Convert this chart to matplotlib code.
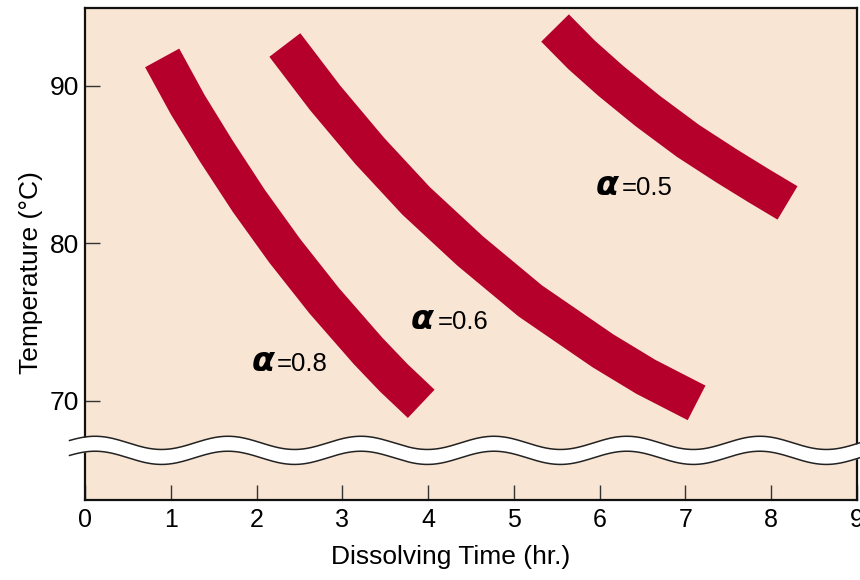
import matplotlib
matplotlib.use("Agg")
import matplotlib.pyplot as plt
import numpy as np

# centre lines of the three bands (hours, deg C)
time_a08 = [0.90, 1.20, 1.53, 1.91, 2.33, 2.79, 3.30, 3.60, 3.92]
temp_a08 = [91.78, 88.79, 85.87, 82.70, 79.52, 76.35, 73.17, 71.46, 69.81]

time_a06 = [2.33, 2.80, 3.32, 3.86, 4.49, 5.19, 6.04, 6.54, 7.13]
temp_a06 = [92.60, 89.24, 85.87, 82.70, 79.52, 76.35, 73.17, 71.52, 69.87]

time_a05 = [5.48, 5.79, 6.13, 6.56, 7.03, 7.48, 7.84, 8.19]
temp_a05 = [93.68, 91.97, 90.32, 88.41, 86.51, 84.92, 83.71, 82.57]

alpha_labels = ["0.8", "0.6", "0.5"]
x_ticks = list(range(10))
y_ticks = [70, 80, 90]

BAND = "#B5002C"
PEACH = "#F9E5D3"

fig = plt.figure(figsize=(8.6, 5.8), dpi=100)
ax = fig.add_axes([0.0988, 0.1379, 0.8977, 0.8483])
ax.set_facecolor(PEACH)
ax.set_xlim(0, 9)
ax.set_ylim(63.7, 94.95)

for t, y in [(time_a08, temp_a08), (time_a06, temp_a06), (time_a05, temp_a05)]:
    ax.plot(t, y, color=BAND, lw=28, solid_capstyle="butt",
            solid_joinstyle="round", zorder=2)

# alpha labels: big bold alpha followed by "=value"
label_pos = [(1.94, 2.24, 71.9), (3.80, 4.11, 74.57), (5.95, 6.26, 83.08)]
for txt, (xa, xv, yb) in zip(alpha_labels, label_pos):
    ax.text(xa, yb, "\u03b1", fontsize=24, fontweight="bold", style="italic",
            family="DejaVu Sans", va="baseline", ha="left", zorder=3)
    ax.text(xv, yb, "=" + txt, fontsize=18.5, family="Liberation Sans",
            va="baseline", ha="left", zorder=3)

# axis break: white wavy strip
xw = np.linspace(-0.18, 9.3, 600)
period, amp, crest = 1.55, 0.42, 1.667
wave = amp * np.cos(2 * np.pi * (xw - crest) / period)
upper = 67.33 + wave
lower = 66.38 + wave
ax.fill_between(xw, lower, upper, color="white", lw=0, zorder=5, clip_on=False)
ax.plot(xw, upper, color="#222222", lw=1.1, zorder=6, clip_on=False)
ax.plot(xw, lower, color="#222222", lw=1.1, zorder=6, clip_on=False)

for s in ax.spines.values():
    s.set_linewidth(1.6)
    s.set_color("#111111")

ax.set_xticks(x_ticks)
ax.set_yticks(y_ticks)
ax.tick_params(axis="both", direction="in", length=11, width=1.0,
               color="#333333")
ax.tick_params(axis="x", pad=6, labelsize=18)
ax.tick_params(axis="y", pad=4, labelsize=19)
for lab in ax.get_xticklabels() + ax.get_yticklabels():
    lab.set_fontfamily("Liberation Sans")

ax.set_xlabel("Dissolving Time (hr.)", fontsize=19, family="Liberation Sans")
ax.set_ylabel("Temperature (\u00b0C)", fontsize=19, family="Liberation Sans")
ax.xaxis.set_label_coords(0.474, -0.0915)
ax.yaxis.set_label_coords(-0.054, 0.463)

fig.savefig("out.png", dpi=100)
